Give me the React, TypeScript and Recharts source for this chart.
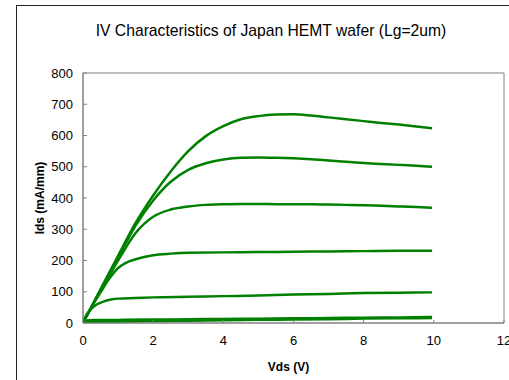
import React from 'react';
import { LineChart, Line, XAxis, YAxis, ReferenceArea } from 'recharts';

const TITLE = 'IV Characteristics of Japan HEMT wafer (Lg=2um)';
const X_LABEL = 'Vds (V)';
const Y_LABEL = 'Ids (mA/mm)';
const xTicks = [0, 2, 4, 6, 8, 10, 12];
const yTicks = [0, 100, 200, 300, 400, 500, 600, 700, 800];

const vdsA = [0, 0.1, 0.5, 1.0, 1.5, 2.0, 2.5, 3.0, 3.5, 4.0, 4.5, 5.0, 5.5, 6.0, 6.5, 7.0, 7.5, 8.0, 8.5, 9.0, 9.5, 9.95];
const ids1 = [2, 22, 108, 215, 320, 408, 485, 550, 598, 630, 652, 662, 667, 668, 664, 658, 652, 646, 640, 635, 629, 623];
const ids2 = [2, 22, 106, 210, 312, 392, 452, 490, 511, 523, 529, 530, 529, 527, 524, 520, 516, 512, 509, 506, 503, 500];
const ids3 = [2, 22, 104, 200, 288, 340, 363, 373, 378, 380, 381, 381, 380, 380, 380, 379, 378, 377, 375, 373, 371, 369];

const vds4 = [0, 0.1, 0.3, 0.5, 0.75, 1.0, 1.25, 1.5, 2.0, 2.5, 3.0, 4.0, 5.0, 6.0, 7.0, 8.0, 9.0, 9.95];
const ids4 = [2, 22, 62, 98, 142, 176, 194, 204, 217, 222, 225, 226, 227, 228, 229, 230, 231, 231];

const vds5 = [0, 0.1, 0.25, 0.4, 0.6, 0.8, 1.0, 1.5, 2.0, 3.0, 4.0, 5.0, 6.0, 7.0, 8.0, 9.0, 9.95];
const ids5 = [2, 26, 47, 60, 69, 75, 78, 80, 82, 84, 86, 88, 91, 93, 96, 97, 98];

const vds6 = [0, 0.1, 0.3, 1, 2, 3, 4, 5, 6, 7, 8, 9, 9.95];
const ids6 = [2, 8, 10, 10, 11, 12, 13, 14, 15, 16, 17, 18, 19];

const vds7 = [0, 0.2, 1, 2, 3, 4, 5, 6, 7, 8, 9, 9.95];
const ids7 = [0, 4, 5, 6, 7, 9, 10, 11, 12, 14, 15, 16];

const build = (v: number[], i: number[]) => v.map((x, k) => ({ v: x, i: i[k] }));
const series = [
  build(vdsA, ids1),
  build(vdsA, ids2),
  build(vdsA, ids3),
  build(vds4, ids4),
  build(vds5, ids5),
  build(vds6, ids6),
  build(vds7, ids7),
];

const GREEN = '#008000';
const AXIS = '#808080';
const FONT = '"Liberation Sans", Arial, sans-serif';

const XTick = (props: any) => {
  const { x, y, payload } = props;
  return (
    <g>
      <line x1={x} x2={x} y1={y} y2={y - 3} stroke={AXIS} />
      <text x={x} y={y + 22} textAnchor="middle" fontSize={13} fill="#000" fontFamily={FONT}>
        {payload.value}
      </text>
    </g>
  );
};

const YTick = (props: any) => {
  const { x, y, payload } = props;
  return (
    <g>
      <line x1={x} x2={x + 4} y1={y} y2={y} stroke={AXIS} />
      <text x={x - 10} y={y} dy="0.36em" textAnchor="end" fontSize={13} fill="#000" fontFamily={FONT}>
        {payload.value}
      </text>
    </g>
  );
};

const XLabel = (props: any) => {
  const vb = props.viewBox || {};
  return (
    <text x={vb.x + vb.width / 2 - 5} y={vb.y + 48} textAnchor="middle" fontSize={12} fontWeight="bold" fill="#000" fontFamily={FONT}>
      {X_LABEL}
    </text>
  );
};

const YLabel = (props: any) => {
  const vb = props.viewBox || {};
  const cx = vb.x + 17;
  const cy = vb.y + vb.height / 2;
  return (
    <text x={cx} y={cy} transform={`rotate(-90, ${cx}, ${cy})`} textAnchor="middle" dy="0.36em" fontSize={12} fontWeight="bold" fill="#000" fontFamily={FONT}>
      {Y_LABEL}
    </text>
  );
};

export default function App() {
  return (
    <div style={{ position: 'absolute', left: 0, top: 0, width: 509, height: 380, overflow: 'hidden', background: '#fff', fontFamily: FONT }}>
      <div style={{ position: 'absolute', left: 16, top: 5, width: 600, height: 500, border: '1px solid #222' }} />
      <div style={{ position: 'absolute', left: 16, top: 22, width: 510, textAlign: 'center', fontSize: 15.7, lineHeight: '18px', color: '#000' }}>
        {TITLE}
      </div>
      <div style={{ position: 'absolute', left: 0, top: 0 }}>
        <LineChart width={509} height={380} margin={{ top: 73, right: 5, bottom: 27, left: 23 }}>
          <XAxis
            type="number"
            dataKey="v"
            domain={[0, 12]}
            ticks={xTicks}
            allowDataOverflow
            height={30}
            tickSize={0}
            tickMargin={0}
            tickLine={false}
            axisLine={{ stroke: AXIS }}
            tick={<XTick />}
            interval={0}
            label={<XLabel />}
          />
          <YAxis
            type="number"
            dataKey="i"
            domain={[0, 800]}
            ticks={yTicks}
            allowDataOverflow
            width={60}
            tickSize={0}
            tickMargin={0}
            tickLine={false}
            axisLine={{ stroke: AXIS }}
            tick={<YTick />}
            interval={0}
            label={<YLabel />}
          />
          <ReferenceArea x1={0} x2={12} y1={0} y2={800} fill="none" stroke={AXIS} strokeWidth={1} ifOverflow="visible" />
          {series.map((d, k) => (
            <Line
              key={k}
              data={d}
              dataKey="i"
              type="monotone"
              stroke={GREEN}
              strokeWidth={2.5}
              dot={false}
              activeDot={false}
              isAnimationActive={false}
            />
          ))}
        </LineChart>
      </div>
    </div>
  );
}
